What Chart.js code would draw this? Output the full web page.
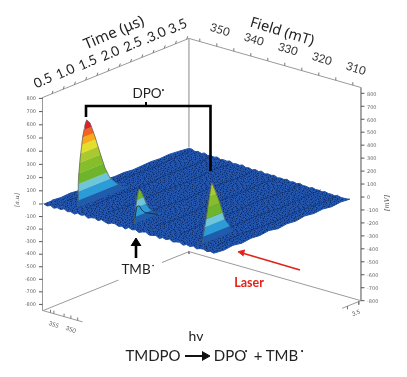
<!DOCTYPE html>
<html><head><meta charset="utf-8">
<style>html,body{margin:0;padding:0;background:#fff}canvas{display:block}</style>
<script src="https://cdn.jsdelivr.net/npm/chart.js@4"></script>
</head><body><canvas id="c" width="407" height="377"></canvas>
<script>
// ---- axes ----
const timeTicks=[0.5,1.0,1.5,2.0,2.5,3.0,3.5];
const timeLabels=["0.5","1.0","1.5","2.0","2.5",".3.0","3.5"];
const fieldTicks=[350,340,330,320,310];
const floorFieldTicks=[355,350];
const ampTicks=[800,700,600,500,400,300,200,100,0,-100,-200,-300,-400,-500,-600,-700,-800];
// ---- surface outline (mT, µs, mV) ----
const surfaceField=[358,357,356,355,354,353,352,351,350,349,348,347,346,345,344,343,342,341,340,339,338,337,336,335,334,333,332,331,330,329,328,327,326,325,324,323,322,321,320,319,318,317,316,315,314,313,312,311,310,309,308];
const frontAmp=[4,-6,5,-8,3,-4,9,-5,2,-9,6,-3,7,-10,1,5,-7,8,-2,-9,4,6,-6,2,-11,7,-3,5,-8,3,9,-6,-2,6,-10,4,-4,8,-7,1,6,-9,3,-5,7,-8,2,5,-6,3,-4];
const backTime=[3.53,3.52,3.52,3.51,3.51,3.50,3.50,3.49,3.49,3.48,3.48,3.47,3.47,3.46,3.46,3.45,3.45,3.44,3.44,3.43,3.43,3.42,3.42,3.41,3.41,3.40,3.40,3.39,3.39,3.38,3.38,3.37,3.37,3.36,3.36,3.35,3.35,3.34,3.34,3.33,3.33,3.32,3.32,3.31,3.31,3.30,3.30,3.29,3.29,3.28,3.28];
const backAmp=[-22,-18,-30,-20,-28,-16,-27,-19,-24,-14,-26,-18,-22,-12,-25,-17,-21,-10,-23,-15,-24,-12,-20,-9,-22,-13,-17,-8,-20,-12,-16,-6,-18,-9,-15,-5,-14,-10,-16,-4,-12,-8,-13,-3,-10,-6,-11,-2,-8,-5,-3];
const sideTime=[0.5,0.7,0.9,1.1,1.3,1.5,1.7,1.9,2.1,2.3,2.5,2.7,2.9,3.1,3.3];
const leftAmp=[3,-3,4,-2,5,-1,6,1,5,-1,4,9,6,12,8];
const rightAmp=[-5,4,-7,3,-4,6,-8,2,-5,7,-3,4,-6,2,-4];
// ---- decaying peaks ----
const p1Field=350.7;
const p1Time=[0.50,0.512,0.518,0.556,0.616,0.667,0.705,0.779,0.89,1.002,1.113,1.225,1.45,1.67];
const p1Amp=[0,58,195,359,528,612,646,612,492,351,219,127,34,0];
const p2Field=333.9;
const p2Time=[0.49,0.494,0.52,0.543,0.565,0.583,0.598,0.643,0.71,0.77,0.843,0.955,1.177];
const p2Amp=[0,40,105,163,206,242,253,234,171,108,63,21,0];
const p2InnerTime=[0.509,0.547,0.605,0.659,0.732,0.843,1.02];
const p2InnerAmp=[45,126,125,85,55,34,0];
const p3Field=313.7;
const p3Time=[0.47,0.494,0.56,0.627,0.66,0.688,0.761,0.872,0.984,1.169];
const p3Amp=[0,42,173,318,390,440,375,258,114,0];
const bandLevels=[0,52,119,178,259,338,407,469,523,577,700];
const bandColors=["#1f5cac","#2b9cd8","#6fc6d8","#6fb52c","#86bd2b","#a9c92f","#e4df2c","#f8aa1c","#f2641f","#e0202a"];
// ---- surface ridges (field, amp along time) ----
const ridgeFields=[355,349,343,336,329,322,316,311];
const ridgeAmp=[[6,-4,8,-6,5,9],[-5,7,-8,6,-3,8],[7,-6,4,-8,9,-4],[-4,8,-6,7,-7,5],[5,-7,9,-4,6,-8],[-6,5,-3,8,-8,6],[8,-4,6,-7,4,7],[-7,6,-5,5,-6,4]];
const ridgeTime=[0.6,1.2,1.8,2.4,3.0,3.3];

const tile=[
"aabcaadabaaacabbdaacabaadcabaab",
"cadaabacaaadbaacaabcdaabaacaada",
"aacbaadbcaabaacdabaaacbaadbabca",
"bdaacaabaadacbaabaaadacabcaaaac",
"aaabcadaabcabaadcabcaaabaadabda",
"caadaabacdaaacbaaabadcabcaaacab",
"abacaacbaaabadcaadaabaaadabcaad",
"daabbadaacdaabaacbcaacbdaaabcaa",
"acadacabaabacdaaabaadaabaacadab",
"baaabaacdaaacbabdacaaacdbaabaac",
"cabdacbaabcadaaacabbaabacadcaab",
"aaacabadaaabaacdaaadcaabaaabdaa",
"adbaacaabdcaabaabcaaabdacabaaca",
"baacbdaacaabacadaaacbaaacdaabdc",
"aacaaabcaadbaaabcadbaacabaacaab",
"cdabaacadabaacdaabaaabdaacbdaaa",
"aabcadabaacbaaacabcadaabaacabac",
"bacaabaacdaabdaabaaacabcdaaadba",
"acdaacbaaabcaacadbaadaabaacbaac",
"aabaadbcadaabaaacabaacbaabdaaba",
"dabcaaaabaacbdacaabdaacadaacbaa",
"acaabdaacdabaaabcaaabaaabcaadac",
"baadcabaaabaacdabadcaabdaabaaab"];
const tileColors={a:"#1d50a6",b:"#285cb6",c:"#17408c",d:"#102e68"};
function makePattern(ctx){
  const o=document.createElement('canvas');o.width=tile[0].length;o.height=tile.length;
  const g=o.getContext('2d');
  tile.forEach((r,y)=>[...r].forEach((k,x)=>{g.fillStyle=tileColors[k];g.fillRect(x,y,1,1);}));
  return ctx.createPattern(o,'repeat');
}

// ---- projection from the plot's 3-D axes onto the flat chart scales ----
const T0=0.3,F0=358.2,TMAX=3.55,FMIN=307.6,ZTOP=820;
function P(t,f,z){return {x:43+(t-T0)*44.9+(F0-f)*3.4,y:204-(t-T0)*18.15+(F0-f)*0.97-z*0.13};}
const GAP={x:NaN,y:NaN};
const ds=[];
function add(data,o){ds.push(Object.assign({data,showLine:true,pointRadius:0,borderWidth:1,borderColor:'#8f8f8f',fill:false,tension:0,spanGaps:false,order:-ds.length},o||{}));}
function ticksList(fn,list,len){const a=[];list.forEach(v=>{const [p,q]=fn(v,len);a.push(p,q,GAP);});return a;}
const ctx0=document.getElementById('c').getContext('2d');

// box edges
add([P(T0,F0,ZTOP),P(TMAX,F0,ZTOP),P(TMAX,FMIN,ZTOP)],{borderColor:'#9a9a9a'});
add([P(TMAX,F0,ZTOP),P(TMAX,F0,-20)],{borderColor:'#b5b5b5',borderWidth:1.6});
add([P(T0,F0,-ZTOP),P(1.98,F0,-ZTOP)],{borderColor:'#9a9a9a'});
add([P(2.95,F0,-ZTOP),P(TMAX,F0,-ZTOP),P(TMAX,FMIN,-ZTOP)],{borderColor:'#9a9a9a'});
add([P(T0,F0,-ZTOP),P(T0,346.6,-ZTOP)],{borderColor:'#9a9a9a'});
add([P(TMAX,FMIN,-ZTOP),P(3.13,FMIN,-ZTOP)],{borderColor:'#9a9a9a'});
add([P(TMAX,F0,-ZTOP),P(TMAX,F0,-ZTOP-18)],{borderColor:'#777'});
add([{x:42.5,y:P(T0,F0,ZTOP).y},{x:42.5,y:P(T0,F0,-ZTOP).y}],{borderColor:'#9a9a9a'});
add([P(TMAX,FMIN,ZTOP),P(TMAX,FMIN,-ZTOP)],{borderColor:'#9a9a9a'});
// tick marks
const timeMinor=[];for(let t=0.5;t<=3.5;t+=0.25)timeMinor.push(t);
add(ticksList((t)=>{const p=P(t,F0,ZTOP);return [p,{x:p.x+1,y:p.y-3}];},timeMinor),{borderColor:'#777'});
const fieldMinor=[];for(let f=355;f>=310;f-=5)fieldMinor.push(f);
add(ticksList((f)=>{const p=P(TMAX,f,ZTOP);return [p,{x:p.x,y:p.y-3}];},fieldMinor),{borderColor:'#777'});
add(ticksList((f)=>{const p=P(T0,f,-ZTOP);return [p,{x:p.x,y:p.y-3}];},[356,355,352,350,348]),{borderColor:'#777'});
add(ticksList((t)=>{const p=P(t,FMIN,-ZTOP);return [p,{x:p.x,y:p.y+3}];},[3.5,3.25]),{borderColor:'#777'});
function leftY(z){return 204-(z>=0?z*0.132:z*0.1255);}
function rightY(z){return 198-z*0.1296;}
add(ticksList((z)=>{const y=leftY(z);return [{x:39,y},{x:42.5,y}];},ampTicks),{borderColor:'#555'});
add(ticksList((z)=>{const y=rightY(z)-1;const x=P(TMAX,FMIN,0).x;return [{x,y},{x:x+3.5,y}];},ampTicks),{borderColor:'#555'});

// noise surface
const surf=[];
surfaceField.forEach((f,i)=>surf.push(P(T0,f,frontAmp[i])));
sideTime.forEach((t,i)=>surf.push(P(t,FMIN,rightAmp[i])));
for(let i=surfaceField.length-1;i>=0;i--)surf.push(P(backTime[i],surfaceField[i],backAmp[i]));
for(let i=sideTime.length-1;i>=0;i--)surf.push(P(sideTime[i],F0,leftAmp[i]-((sideTime[i]-T0)*8)));
const pat=makePattern(ctx0);
add(surf,{fill:'shape',backgroundColor:pat,borderColor:'#1d50a6',borderWidth:1});
ridgeFields.forEach((f,k)=>add(ridgeTime.map((t,i)=>P(t,f,ridgeAmp[k][i])),{borderColor:'rgba(14,40,96,0.45)',borderWidth:1}));

// peaks: colour bands cut from each trace
function clip(poly,lev,keepAbove){
  const out=[];
  for(let i=0;i<poly.length;i++){
    const a=poly[i],b=poly[(i+1)%poly.length];
    const ia=keepAbove?a[1]>=lev:a[1]<=lev, ib=keepAbove?b[1]>=lev:b[1]<=lev;
    if(ia)out.push(a);
    if(ia!==ib){const r=(lev-a[1])/(b[1]-a[1]);out.push([a[0]+r*(b[0]-a[0]),lev]);}
  }
  return out;
}
function peak(field,times,amps){
  const poly=times.map((t,i)=>[t,amps[i]]);
  bandColors.forEach((col,i)=>{
    const band=clip(clip(poly,bandLevels[i],true),bandLevels[i+1],false);
    if(band.length>2)add(band.map(q=>P(q[0],field,q[1])),{fill:'shape',backgroundColor:col,borderColor:col,borderWidth:0.4});
  });
  add(times.map((t,i)=>P(t,field,amps[i])).slice(0,-1),{borderColor:'#5a5f5a',borderWidth:0.7});
}
peak(p1Field,p1Time,p1Amp);
peak(p2Field,p2Time,p2Amp);
peak(p3Field,p3Time,p3Amp);
add(p2InnerTime.map((t,i)=>P(t,p2Field,p2InnerAmp[i])),{borderColor:'#123',borderWidth:0.8});

// annotations
add([{x:86,y:117},{x:86,y:106},{x:210.5,y:106},{x:210.5,y:171}],{borderColor:'#000',borderWidth:2.6});
add([{x:146,y:106},{x:146,y:102}],{borderColor:'#000',borderWidth:2});
add([{x:136,y:258},{x:136,y:243}],{borderColor:'#000',borderWidth:2.6});
add([{x:131,y:246},{x:136,y:238},{x:141,y:246}],{fill:'shape',backgroundColor:'#000',borderColor:'#000'});
add([{x:185,y:356},{x:204,y:356}],{borderColor:'#111',borderWidth:2});
add([{x:202,y:351.5},{x:210,y:356},{x:202,y:360.5}],{fill:'shape',backgroundColor:'#111',borderColor:'#111'});
add([{x:300,y:270},{x:243,y:253.3}],{borderColor:'#e2231a',borderWidth:1.7});
add([{x:245,y:250},{x:238,y:251.7},{x:243.5,y:256}],{fill:'shape',backgroundColor:'#e2231a',borderColor:'#e2231a'});

const textPlugin={id:'texts',afterDatasetsDraw(chart){
  const c=chart.ctx,X=chart.scales.x,Y=chart.scales.y;
  function T(s,x,y,font,col,rot,al){c.save();c.translate(X.getPixelForValue(x),Y.getPixelForValue(y));c.rotate((rot||0)*Math.PI/180);c.font=font;c.fillStyle=col||'#000';c.textAlign=al||'center';c.textBaseline='middle';c.fillText(s,0,0);c.restore();}
  const L='Lato, sans-serif';
  timeTicks.forEach((t,i)=>{const p=P(t,F0,ZTOP);T(timeLabels[i],p.x-9,p.y-13,'13.5px '+L,'#222',-24);});
  fieldTicks.forEach(f=>{const p=P(TMAX,f,ZTOP);T(String(f),p.x+3,p.y-16.5,'11.5px '+L,'#333',17);});
  floorFieldTicks.forEach(f=>{const p=P(T0,f,-ZTOP);T(String(f),p.x,p.y+11,'6px '+L,'#555',20);});
  T('3.5',356,313,'6px '+L,'#555',-20);
  ampTicks.forEach(z=>{T(String(z),36,leftY(z),'5px "DejaVu Sans"','#666',0,'right');T(String(z),367,rightY(z),'5px "DejaVu Sans"','#666',0,'left');});
  T('Time (μs)',114,33,'15px "Noto Sans"','#222',-23);
  T('Field (mT)',282,32,'14.5px "Noto Sans"','#222',17);
  T('[a.u]',17,200,'italic 6px "DejaVu Serif"','#555',-90);
  T('[mV]',387,203,'italic 6.5px "DejaVu Serif"','#555',-90);
  T('DPO',147,94,'13.5px '+L,'#222');T('•',163,90,'5px '+L,'#222');
  T('TMB',136,270,'13.5px '+L,'#222');T('•',153,266,'4.5px '+L,'#222');
  T('Laser',249,283,'bold 12.5px '+L,'#e2231a');
  T('hv',196,336,'14px '+L,'#222');
  T('TMDPO',153,356,'15px '+L,'#222');
  T('DPO',230,356,'15px '+L,'#222');T('•',246,351,'5.5px '+L,'#222');
  T('+',258,356,'15px '+L,'#222');
  T('TMB',282,356,'15px '+L,'#222');T('•',302,351,'5.5px '+L,'#222');
}};
new Chart(ctx0,{type:'scatter',data:{datasets:ds},plugins:[textPlugin],options:{
  responsive:false,animation:false,events:[],
  layout:{padding:0},
  plugins:{legend:{display:false},tooltip:{enabled:false}},
  scales:{x:{type:'linear',min:0,max:407,display:false},y:{type:'linear',min:0,max:377,reverse:true,display:false}}
}});
</script></body></html>
